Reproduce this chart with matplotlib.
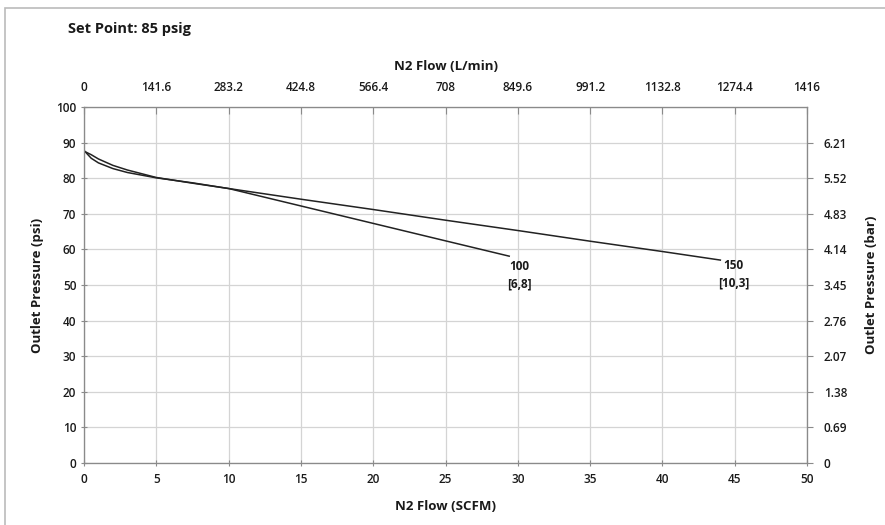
import matplotlib
matplotlib.use('Agg')
import matplotlib.pyplot as plt
from matplotlib.patches import Rectangle

plt.rcParams['font.family'] = ['Open Sans', 'DejaVu Sans']
plt.rcParams['font.weight'] = 'semibold'
plt.rcParams['axes.labelweight'] = 'bold'

# Dados
scfm_100 = [0, 0.5, 1, 2, 3, 5, 7.5, 10, 15, 20, 25, 29.4]
psi_100 = [87.8, 85.6, 84.3, 82.7, 81.6, 80.1, 78.7, 77.1, 72.2, 67.3, 62.4, 58.1]
scfm_150 = [0, 0.5, 1, 2, 3, 5, 7.5, 10, 15, 20, 25, 30, 35, 40, 44]
psi_150 = [87.6, 86.6, 85.4, 83.6, 82.3, 80.2, 78.6, 77.1, 74.1, 71.2, 68.2, 65.3, 62.3, 59.4, 57.0]
curve_labels = ['100\n[6,8]', '150\n[10,3]']

x_ticks = [0, 5, 10, 15, 20, 25, 30, 35, 40, 45, 50]
lmin_labels = ['0', '141.6', '283.2', '424.8', '566.4', '708', '849.6', '991.2', '1132.8', '1274.4', '1416']
y_ticks = [0, 10, 20, 30, 40, 50, 60, 70, 80, 90, 100]
bar_ticks = [0, 10, 20, 30, 40, 50, 60, 70, 80, 90]
bar_labels = ['0', '0.69', '1.38', '2.07', '2.76', '3.45', '4.14', '4.83', '5.52', '6.21']

spine_c = '#8a8a8a'
grid_c = '#d4d4d4'
txt_c = '#1a1a1a'
tick_fs = 8.5
lab_fs = 9.5

fig = plt.figure(figsize=(8.85, 5.25), dpi=100)
fig.patches.append(Rectangle((0.006, -0.1), 1.2, 1.085, transform=fig.transFigure,
                             fill=False, edgecolor='#bbbbbb', lw=1.2))
ax = fig.add_axes([0.0949, 0.1181, 0.8171, 0.6781])

ax.plot(scfm_100, psi_100, color='#222222', lw=1.1)
ax.plot(scfm_150, psi_150, color='#222222', lw=1.1)
ax.text(29.4 + 0.7, 58.1 - 1.0, curve_labels[0], ha='center', va='top', fontsize=tick_fs,
        fontweight='bold', color=txt_c, linespacing=1.5)
ax.text(44.0 + 0.9, 57.0 + 0.4, curve_labels[1], ha='center', va='top', fontsize=tick_fs,
        fontweight='bold', color=txt_c, linespacing=1.5)

ax.set_xlim(0, 50)
ax.set_ylim(0, 100)
ax.set_xticks(x_ticks)
ax.set_yticks(y_ticks)
ax.grid(True, color=grid_c, lw=0.9)
ax.set_axisbelow(True)
for s in ax.spines.values():
    s.set_color(spine_c)
ax.tick_params(axis='both', colors=spine_c, labelcolor=txt_c, labelsize=tick_fs, length=4,
               direction='inout')
ax.tick_params(axis='x', pad=5)
ax.set_xlabel('N2 Flow (SCFM)', fontsize=lab_fs, color=txt_c, labelpad=10)
ax.set_ylabel('Outlet Pressure (psi)', fontsize=lab_fs, color=txt_c, labelpad=9)

# eixo de cima (L/min)
axt = ax.twiny()
axt.set_xlim(0, 50)
axt.set_xticks(x_ticks)
axt.set_xticklabels(lmin_labels)
axt.tick_params(axis='x', colors=spine_c, labelcolor=txt_c, labelsize=tick_fs, length=5,
                direction='in', pad=9)
axt.set_xlabel('N2 Flow (L/min)', fontsize=lab_fs, color=txt_c, labelpad=8)

# eixo da direita (bar)
axr = ax.twinx()
axr.set_ylim(0, 100)
axr.set_yticks(bar_ticks)
axr.set_yticklabels(bar_labels)
axr.tick_params(axis='y', colors=spine_c, labelcolor=txt_c, labelsize=tick_fs, length=4,
                direction='out', pad=8)
axr.set_ylabel('Outlet Pressure (bar)', fontsize=lab_fs, color=txt_c, labelpad=13)
for a in (axt, axr):
    for s in a.spines.values():
        s.set_color(spine_c)

fig.text(0.077, 0.945, 'Set Point: 85 psig', fontsize=10.5, fontweight='bold', color=txt_c,
         ha='left', va='center')

fig.savefig('out.png', dpi=100)
